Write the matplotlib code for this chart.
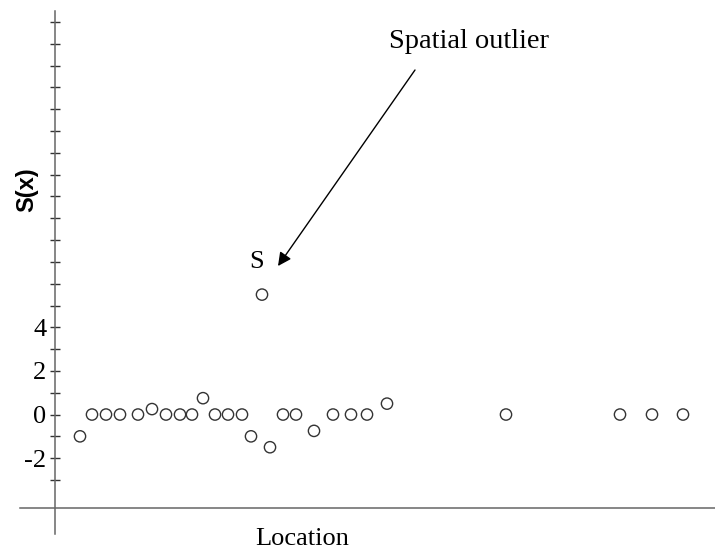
"""Spatial outlier illustration: S(x) against location."""
import matplotlib
matplotlib.use("Agg")
import matplotlib.pyplot as plt
from matplotlib.ticker import FixedLocator

plt.rcParams["axes.unicode_minus"] = False

# location of each sample and its S(x) value
locations = [2.5, 3.7, 5.1, 6.5, 8.3, 9.7, 11.1, 12.5, 13.7, 14.8, 16.0,
             17.3, 18.7, 19.6, 21.5, 22.8, 24.1, 25.9, 27.8, 29.6, 31.2,
             33.2, 45.1, 56.5, 59.7, 62.8]
s_values = [-1.0, 0.0, 0.0, 0.0, 0.0, 0.25, 0.0, 0.0, 0.0, 0.75, 0.0,
            0.0, 0.0, -1.0, -1.5, 0.0, 0.0, -0.75, 0.0, 0.0, 0.0,
            0.5, 0.0, 0.0, 0.0, 0.0]

# the outlying point S
outlier_loc = 20.7
outlier_val = 5.5

labelled_ticks = [-2, 0, 2, 4]
all_ticks = list(range(-3, 19))

serif = ["Liberation Serif", "DejaVu Serif"]
sans = ["Liberation Sans", "DejaVu Sans"]

fig = plt.figure(figsize=(7.15, 5.53), dpi=100)
ax = fig.add_axes([0, 0, 1, 1])
ax.set_xlim(-5.5, 66)
ax.set_ylim(-6.35, 19.01)
ax.patch.set_alpha(0)

ax.scatter(locations + [outlier_loc], s_values + [outlier_val], s=66,
           facecolors="none", edgecolors="#333333", linewidths=1.0, zorder=3)

# axes drawn as crossing lines
for side in ("top", "right"):
    ax.spines[side].set_visible(False)
ax.spines["left"].set_position(("data", 0))
ax.spines["left"].set_bounds(-5.5, 18.5)
ax.spines["bottom"].set_position(("data", -4.3))
ax.spines["bottom"].set_bounds(-3.5, 66)
for side in ("left", "bottom"):
    ax.spines[side].set_color("#666666")
    ax.spines[side].set_linewidth(1.1)

ax.set_xticks([])
ax.yaxis.set_major_locator(FixedLocator(labelled_ticks))
ax.yaxis.set_minor_locator(FixedLocator([t for t in all_ticks if t not in labelled_ticks]))
ax.tick_params(axis="y", which="both", direction="inout", length=6.5,
               width=1.0, color="#333333")
ax.tick_params(axis="y", which="major", pad=3, labelsize=19)
for lbl in ax.get_yticklabels():
    lbl.set_family(serif)

ax.text(24.7, -5.99, "Location", ha="center", va="baseline",
        fontsize=19, family=serif)
ax.text(-2.8, 10.3, "S(x)", ha="center", va="center", rotation=90,
        fontsize=17, fontweight="bold", family=sans)

ax.text(20.2, 6.72, "S", ha="center", va="baseline", fontsize=19, family=serif)
ax.text(41.4, 16.8, "Spatial outlier", ha="center", va="baseline",
        fontsize=20.5, family=serif)
ax.annotate("", xy=(22.3, 6.81), xytext=(36.0, 15.8),
            arrowprops=dict(arrowstyle="-|>", color="black", lw=1.0,
                            mutation_scale=20, shrinkA=0, shrinkB=0))

fig.savefig("out.png", dpi=100)
